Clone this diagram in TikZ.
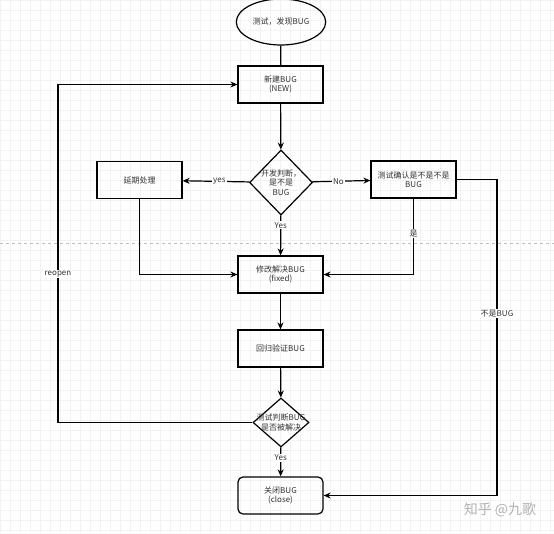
\documentclass[tikz,border=0pt]{standalone}
\usepackage{fontspec}
\setmainfont{Noto Sans CJK SC}
\usetikzlibrary{arrows.meta,shapes.geometric}

\begin{document}
\begin{tikzpicture}[x=1pt,y=-1pt,>={Stealth[length=7pt,width=6pt]},
    every node/.style={font=\fontsize{8}{9.5}\selectfont,text=black!80},
    box/.style={draw,line width=1.2pt,minimum width=85pt,minimum height=37pt,align=center,inner sep=1pt},
    choice/.style={draw,diamond,line width=1.2pt,inner sep=0pt},
    flow/.style={draw,line width=1.2pt,->},
    tag/.style={fill=white,inner sep=1pt}]
        % page and grid
        \fill[white] (0,0) rectangle (554,533);
        \useasboundingbox (0,0) rectangle (554,533);
        \draw[black!5,step=10pt] (0,0) grid (554,533);
        \draw[black!25,dashed] (0,243) -- (554,243);
        % nodes
        \node[draw,ellipse,line width=1.2pt,minimum width=88pt,minimum height=46pt] (start) at (281,22) {测试，发现BUG};
        \node[box] (new) at (280.5,84.5) {新建BUG\\(NEW)};
        \node[choice,minimum width=63pt,minimum height=65pt] (dev) at (281,182.5) {};
        \node[align=center] at (dev) {开发判断，\\是不是\\BUG};
        \node[box] (delay) at (139.5,180) {延期处理};
        \node[box] (check) at (413.5,179.5) {测试确认是不是不是\\BUG};
        \node[box] (fix) at (280.5,274.5) {修改解决BUG\\(fixed)};
        \node[box] (retest) at (280.5,348.5) {回归验证BUG};
        \node[choice,minimum width=56pt,minimum height=49pt] (judge) at (281,422.5) {};
        \node[align=center] at (judge) {测试判断BUG\\是否被解决};
        \node[box,rounded corners=5pt] (close) at (280.5,495.5) {关闭BUG\\(close)};
        \coordinate (left) at (58,422.5);
        \coordinate (right) at (497,179.5);
        % connectors
        \draw[line width=1.2pt] (start) -- (new);
        \draw[flow] (new) -- (dev);
        \draw[flow] (dev) -- (delay) node[tag,pos=0.45] {yes};
        \draw[flow] (dev) -- (check) node[tag,pos=0.45] {No};
        \draw[flow] (dev) -- (fix) node[tag,pos=0.25] {Yes};
        \draw[flow] (delay.south) |- (fix.west);
        \draw[flow] (check.south) |- (fix.east) node[tag,pos=0.23] {是};
        \draw[flow] (fix) -- (retest);
        \draw[flow] (retest) -- (judge);
        \draw[flow] (judge) -- (close) node[tag,pos=0.35] {Yes};
        \draw[flow] (judge.west) -- (left) |- (new.west) node[tag,pos=0.22] {reopen};
        \draw[flow] (check.east) -- (right) |- (close.east) node[tag,pos=0.212] {不是BUG};
        % watermark
        \node[text=black!30,font=\fontsize{14}{16}\selectfont] (mark) at (500,510) {知乎 @九歌};
      \end{tikzpicture}
\end{document}
